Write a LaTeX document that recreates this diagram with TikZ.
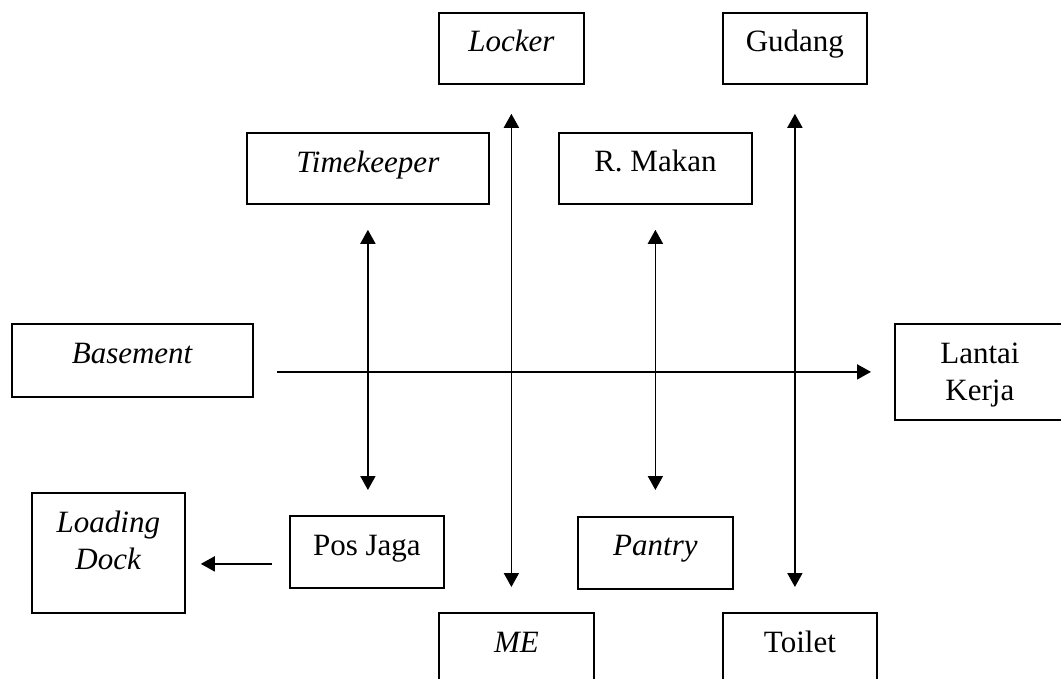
\documentclass[tikz,border=0pt]{standalone}
\usepackage{fontspec}
\setmainfont{Liberation Serif}
\usetikzlibrary{arrows.meta}
\begin{document}
\begin{tikzpicture}[x=1pt,y=-1pt,
  box/.style={draw, line width=1.8pt, anchor=north west, inner sep=0pt},
  lbl/.style={anchor=base, inner sep=0pt, align=center, font=\fontsize{31}{37}\selectfont},
  link/.style={line width=1.8pt, -{Triangle[length=14pt,width=15pt]}},
  both/.style={line width=1.8pt, {Triangle[length=14pt,width=15pt]}-{Triangle[length=14pt,width=15pt]}}]
\useasboundingbox (0,0) rectangle (1061,679);
% boxes
\node[box, minimum width=145pt, minimum height=71pt] (locker) at (438,12) {};
\node[box, minimum width=144pt, minimum height=71pt] (gudang) at (722,12) {};
\node[box, minimum width=242pt, minimum height=71pt] (time) at (246,132) {};
\node[box, minimum width=193pt, minimum height=71pt] (makan) at (558,132) {};
\node[box, minimum width=241pt, minimum height=73pt] (base) at (11,323) {};
\node[box, minimum width=170pt, minimum height=96pt] (lantai) at (894,323) {};
\node[box, minimum width=153pt, minimum height=120pt] (loading) at (31,492) {};
\node[box, minimum width=154pt, minimum height=72pt] (pos) at (289,515) {};
\node[box, minimum width=155pt, minimum height=72pt] (pantry) at (577,516) {};
\node[box, minimum width=155pt, minimum height=80pt] (me) at (438,612) {};
\node[box, minimum width=154pt, minimum height=80pt] (toilet) at (722,612) {};
% labels
\node[lbl] (lockerT) at ([yshift=-40pt]locker.north) {\textit{Locker}};
\node[lbl] (gudangT) at ([yshift=-40pt]gudang.north) {Gudang};
\node[lbl] (timeT) at ([yshift=-41pt]time.north) {\textit{Timekeeper}};
\node[lbl] (makanT) at ([yshift=-40pt]makan.north) {R. Makan};
\node[lbl] (baseT) at ([yshift=-40pt]base.north) {\textit{Basement}};
\node[lbl] (lantaiT) at ([yshift=-77pt]lantai.north) {Lantai\\Kerja};
\node[lbl] (loadingT) at ([yshift=-77pt]loading.north) {\textit{Loading}\\\textit{Dock}};
\node[lbl] (posT) at ([yshift=-40pt]pos.north) {Pos Jaga};
\node[lbl] (pantryT) at ([yshift=-39pt]pantry.north) {\textit{Pantry}};
\node[lbl] (meT) at ([yshift=-40pt]me.north) {\textit{ME}};
\node[lbl] (toiletT) at ([yshift=-40pt]toilet.north) {Toilet};
% connectors
\draw[both] ([yshift=-29pt]locker.south) -- ([yshift=25pt]locker.south |- me.north);
\draw[both] ([yshift=-29pt]gudang.south) -- ([yshift=25pt]gudang.south |- toilet.north);
\draw[both] ([yshift=-25pt]time.south) -- ([yshift=25pt]time.south |- pos.north);
\draw[both] ([yshift=-25pt]makan.south) -- ([yshift=26pt]makan.south |- pantry.north);
\draw[link] ([xshift=23pt]base.east |- lantai.west) -- ([xshift=-23pt]lantai.west);
\coordinate (posOut) at ([xshift=-17pt,yshift=-12pt]pos.west);
\draw[link] (posOut) -- ([xshift=15pt]loading.east |- posOut);
\end{tikzpicture}
\end{document}
